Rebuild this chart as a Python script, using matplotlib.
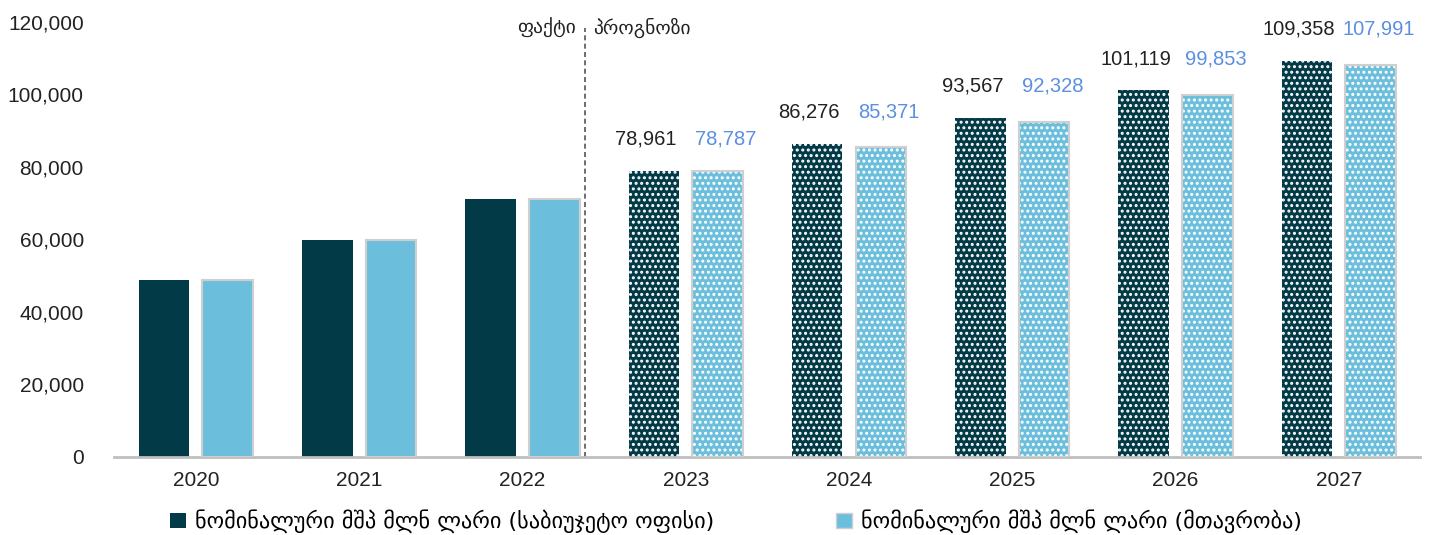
import numpy as np
import matplotlib.pyplot as plt
from matplotlib.patches import Patch

years = ['2020', '2021', '2022', '2023', '2024', '2025', '2026', '2027']
budget_office = [48800, 59700, 71200, 78961, 86276, 93567, 101119, 109358]
government = [48800, 59700, 71200, 78787, 85371, 92328, 99853, 107991]
n_actual = 3  # first three years are actual data, the rest forecast

label_budget = 'ნომინალური მშპ მლნ ლარი (საბიუჯეტო ოფისი)'
label_gov = 'ნომინალური მშპ მლნ ლარი (მთავრობა)'
text_fact = 'ფაქტი'
text_forecast = 'პროგნოზი'

dark = '#033a47'
light = '#6cbfdc'
edge_grey = '#cfcfcf'

plt.rcParams['font.family'] = ['Liberation Sans', 'DejaVu Sans']
plt.rcParams['hatch.linewidth'] = 1.4

fig = plt.figure(figsize=(14.29, 5.35), dpi=100)
ax = fig.add_axes([0.08, 0.146, 0.914, 0.813])

x = np.arange(len(years))
width = 0.31
off = 0.195

for i in range(len(years)):
    hatch = None if i < n_actual else '...'
    ax.bar(x[i] - off, budget_office[i], width, color=dark, edgecolor='white',
           hatch=hatch, linewidth=0, zorder=2)
    ax.bar(x[i] + off, government[i], width, color=light, edgecolor='white',
           hatch=hatch, linewidth=0, zorder=2)
    ax.bar(x[i] + off, government[i], width, fill=False, edgecolor=edge_grey,
           linewidth=1.5, zorder=3)
    if i >= n_actual:
        ax.annotate(f'{budget_office[i]:,}', (x[i] - off - 0.05, budget_office[i]),
                    xytext=(0, 16), textcoords='offset points', ha='center',
                    va='bottom', fontsize=14.5, color='#222222')
        ax.annotate(f'{government[i]:,}', (x[i] + off + 0.05, budget_office[i]),
                    xytext=(0, 16), textcoords='offset points', ha='center',
                    va='bottom', fontsize=14.5, color='#5b8fe0')

# split between fact and forecast
ax.axvline(2.38, ymin=0, ymax=0.985, color='#555555', linestyle=(0, (3, 2)),
           linewidth=1.2, zorder=1)
ax.text(2.33, 118300, text_fact, ha='right', va='center', fontsize=14,
        family='DejaVu Sans', color='#222222')
ax.text(2.43, 118300, text_forecast, ha='left', va='center', fontsize=14,
        family='DejaVu Sans', color='#222222')

ax.set_xlim(-0.5, 7.5)
ax.set_ylim(0, 120000)
ax.set_yticks(np.arange(0, 120001, 20000))
ax.yaxis.set_major_formatter(plt.FuncFormatter(lambda v, p: f'{int(v):,}'))
ax.set_xticks(x)
ax.set_xticklabels(years)
ax.tick_params(axis='both', length=0, labelsize=15, colors='#222222')
ax.tick_params(axis='x', pad=10)
ax.tick_params(axis='y', pad=22)

for s in ['top', 'right', 'left']:
    ax.spines[s].set_visible(False)
ax.spines['bottom'].set_color('#bfbfbf')
ax.spines['bottom'].set_linewidth(2)

handles = [Patch(facecolor=dark, edgecolor='none'),
           Patch(facecolor=light, edgecolor=edge_grey)]
fig.legend(handles, [label_budget, label_gov], loc='center',
           bbox_to_anchor=(0.515, 0.025), ncol=2, frameon=False,
           handlelength=0.7, handleheight=0.7, handletextpad=0.4,
           columnspacing=5.5, prop={'family': 'DejaVu Sans', 'size': 16})

fig.savefig('out.png', dpi=100)
